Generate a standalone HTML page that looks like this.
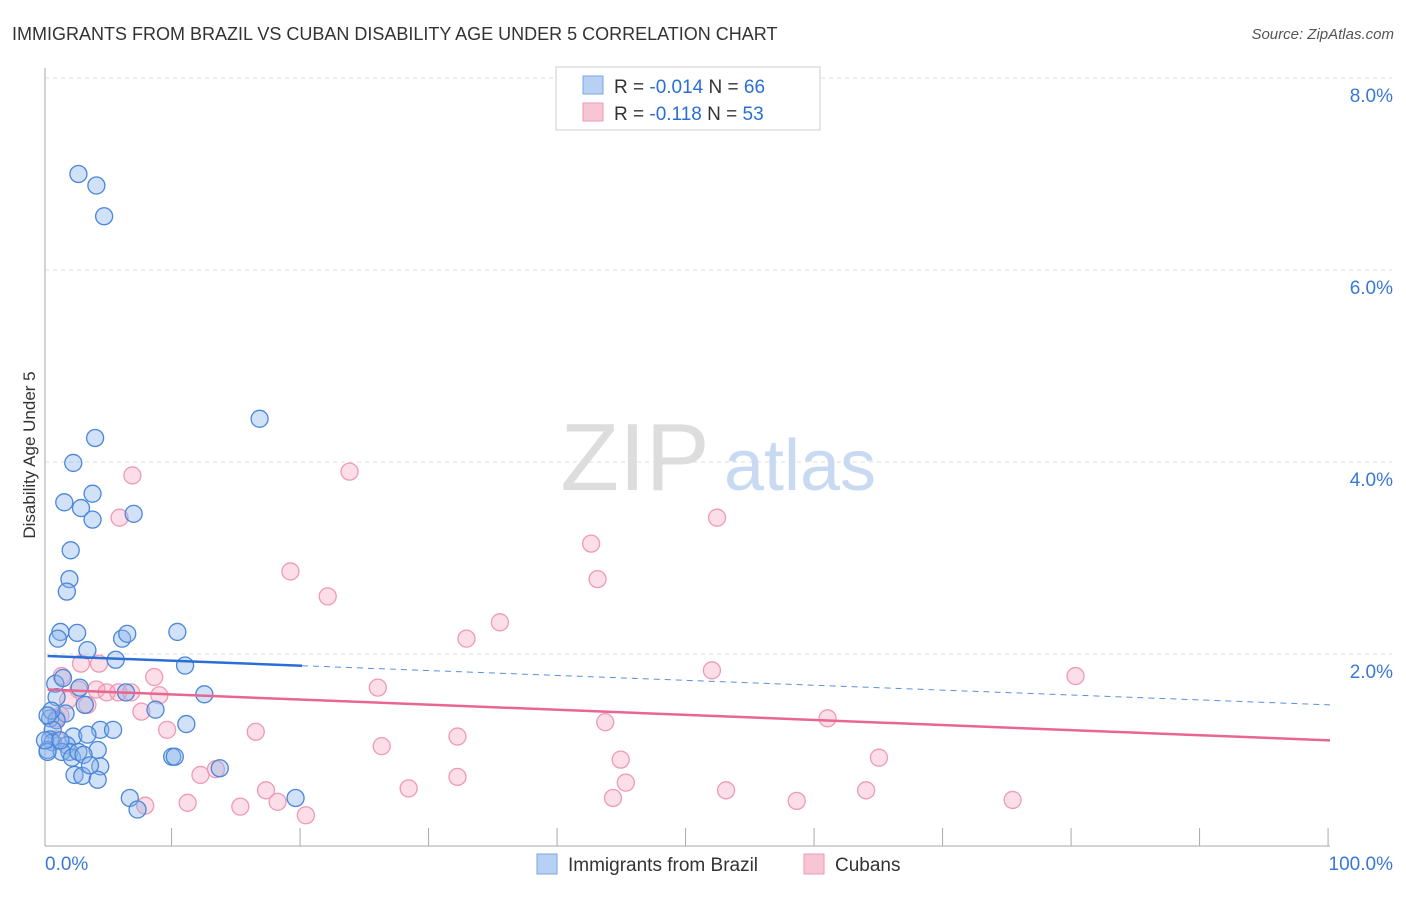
<!DOCTYPE html>
<html><head><meta charset="utf-8"><style>
body{margin:0;background:#fff;font-family:"Liberation Sans",sans-serif;}
svg text{font-family:"Liberation Sans",sans-serif;}
</style></head><body>
<svg width="1406" height="892" xmlns="http://www.w3.org/2000/svg">
<text x="12" y="40" font-size="18" fill="#333">IMMIGRANTS FROM BRAZIL VS CUBAN DISABILITY AGE UNDER 5 CORRELATION CHART</text>
<text x="1394" y="39" font-size="15" fill="#555" font-style="italic" text-anchor="end">Source: ZipAtlas.com</text>
<g id="grid"></g>
<g id="watermark">
<text x="635" y="490" font-size="96" fill="#ddd" font-family="Liberation Serif" text-anchor="middle">ZIP</text>
<text x="800" y="490" font-size="72" fill="#c8daf2" text-anchor="middle">atlas</text></g>
<line x1="45" y1="68" x2="45" y2="846" stroke="#aaa"/>
<line x1="45" y1="846" x2="1330" y2="846" stroke="#aaa"/>
<g id="ticks"></g>
<text x="35" y="455" font-size="17" fill="#333" text-anchor="middle" transform="rotate(-90 35 455)">Disability Age Under 5</text>
<g id="points"></g>
<g id="trends"></g>
<g>
<rect x="556" y="67" width="264" height="63" fill="#fff" stroke="#ccc"/>
<rect x="583" y="76" width="20" height="18" fill="#b7d0f3" stroke="#7aa6e6"/>
<rect x="583" y="103" width="20" height="18" fill="#f8c5d5" stroke="#ef9ab5"/>
<text x="614" y="93" font-size="19" fill="#333">R = <tspan fill="#2a6fd6">-0.014</tspan>   N = <tspan fill="#2a6fd6">66</tspan></text>
<text x="614" y="120" font-size="19" fill="#333">R =  <tspan fill="#2a6fd6">-0.118</tspan>   N = <tspan fill="#2a6fd6">53</tspan></text>
</g>
<g>
<rect x="537" y="854" width="20" height="20" fill="#b7d0f3" stroke="#7aa6e6"/>
<text x="568" y="871" font-size="19" fill="#333">Immigrants from Brazil</text>
<rect x="804" y="854" width="20" height="20" fill="#f8c5d5" stroke="#ef9ab5"/>
<text x="835" y="871" font-size="19" fill="#333">Cubans</text>
</g>
</svg>
<script>
const yTicks=[0,2,4,6,8];
const xTickLabels=["0.0%","100.0%"];
const blueX=[2.6,4,4.6,16.7,3.9,2.2,1.5,2.8,3.7,3.7,6.9,2,1.9,1.7,1.2,1,2.5,6,6.4,10.3,3.3,5.5,10.9,0.8,1.4,2.7,12.4,6.3,0.9,3.1,8.6,1.6,0.4,0.9,0.6,11,4.3,5.3,2.2,3.3,0.4,0.6,0.2,1.7,1.9,1.3,2.1,2.6,4.1,3,4.3,9.9,10.1,13.6,2.3,2.9,4.1,6.6,7.2,19.5,0.2,0,1.2,0.5,0.2,3.5];
const blueY=[7.0,6.88,6.56,4.45,4.25,3.99,3.58,3.52,3.67,3.4,3.46,3.08,2.78,2.65,2.23,2.16,2.22,2.16,2.21,2.23,2.04,1.94,1.88,1.69,1.75,1.65,1.58,1.6,1.55,1.47,1.42,1.38,1.33,1.31,1.21,1.27,1.21,1.21,1.14,1.16,1.11,1.08,1.0,1.05,0.98,0.98,0.92,0.98,1.0,0.95,0.83,0.93,0.93,0.81,0.74,0.73,0.69,0.5,0.38,0.5,0.98,1.1,1.1,1.41,1.36,0.84];
const pinkX=[6.8,23.7,5.8,52.3,42.5,43,19.1,22,35.4,32.8,51.9,80.2,2.8,4.2,1.3,8.5,25.9,2.6,4,4.8,5.7,6.7,8.9,1.8,3.3,1.2,0.9,7.5,60.9,43.6,0.9,9.5,16.4,32.1,26.2,44.8,64.9,32.1,12.1,13.3,45.2,28.3,53,63.9,17.2,44.2,7.8,11.1,15.2,18.1,20.3,58.5,75.3];
const pinkY=[3.86,3.9,3.42,3.42,3.15,2.78,2.86,2.6,2.33,2.16,1.83,1.77,1.9,1.9,1.77,1.76,1.65,1.63,1.63,1.6,1.6,1.6,1.57,1.52,1.47,1.36,1.33,1.4,1.33,1.29,1.11,1.21,1.19,1.14,1.04,0.9,0.92,0.72,0.74,0.8,0.66,0.6,0.58,0.58,0.58,0.5,0.42,0.45,0.41,0.46,0.32,0.47,0.48];
const blueTrend=[1.98,1.47], pinkTrend=[1.63,1.1];
const NS="http://www.w3.org/2000/svg";
const X=v=>45+v*12.85, Y=v=>846-v*96;
function mk(t,a,p){const e=document.createElementNS(NS,t);for(const k in a)e.setAttribute(k,a[k]);p.appendChild(e);return e;}
const grid=document.getElementById('grid'), ticks=document.getElementById('ticks');
yTicks.forEach(v=>{ if(v>0){const l=mk('line',{x1:45,x2:1392,y1:Y(v),y2:Y(v),stroke:'#ddd','stroke-dasharray':'4,4'},grid);


const t=mk('text',{x:1393,y:Y(v)+24,'font-size':19,fill:'#3a78d8','text-anchor':'end'},ticks);t.textContent=v.toFixed(1)+'%';

}});
for(let i=1;i<=10;i++){const l=mk('line',{x1:X(i*10-0.15),x2:X(i*10-0.15),y1:828,y2:846,stroke:'#aaa'},ticks);

}
[[45,'start',0],[1393,'end',1]].forEach(([x,a,i])=>{const t=mk('text',{x:x,y:870,'font-size':19,fill:'#3a78d8','text-anchor':a},ticks);t.textContent=xTickLabels[i];

});
const pts=document.getElementById('points');
pinkX.forEach((x,i)=>{const c=mk('circle',{cx:X(x),cy:Y(pinkY[i]),r:8.5,fill:'rgba(244,160,185,0.35)',stroke:'#ef9ab5','stroke-width':1.3},pts);

});
blueX.forEach((x,i)=>{const c=mk('circle',{cx:X(x),cy:Y(blueY[i]),r:8.5,fill:'rgba(140,180,235,0.4)',stroke:'#4a86da','stroke-width':1.3},pts);

});
const tr=document.getElementById('trends');
const by=x=>blueTrend[0]+(blueTrend[1]-blueTrend[0])*x/100;
let l=mk('line',{x1:X(0.2),y1:Y(by(0.2)),x2:X(20),y2:Y(by(20)),stroke:'#2a6fd6','stroke-width':2.5},tr);


l=mk('line',{x1:X(20),y1:Y(by(20)),x2:X(100),y2:Y(by(100)),stroke:'#5a8fdc','stroke-width':1,'stroke-dasharray':'6,5'},tr);


l=mk('line',{x1:X(0.2),y1:Y(pinkTrend[0]),x2:X(100),y2:Y(pinkTrend[1]),stroke:'#e8668f','stroke-width':2.5},tr);


</script>
</body></html>
